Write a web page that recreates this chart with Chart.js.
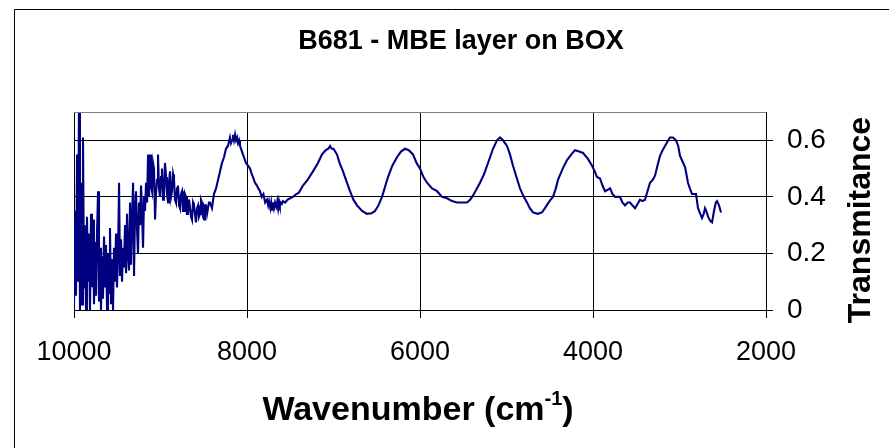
<!DOCTYPE html>
<html lang="en">
<head>
  <meta charset="UTF-8" />
  <title>B681 - MBE layer on BOX</title>
  <script src="https://cdn.jsdelivr.net/npm/chart.js"></script>
  <style>
    body {
      margin: 0;
      background: white;
    }
    canvas { display: block; }
  </style>
</head>
<body>
  <canvas id="spectrum" width="889" height="448"></canvas>

  <script>
    // Transmission spectrum, wavenumber in cm-1 (high to low)
    const wavenumber = [
      10000, 9988, 9977, 9965, 9954, 9942, 9931, 9919, 9907, 9896, 9884, 9873, 9861, 9850, 9838, 9826,
      9815, 9803, 9792, 9780, 9769, 9757, 9746, 9734, 9722, 9711, 9699, 9688, 9676, 9665, 9653, 9641,
      9630, 9618, 9607, 9595, 9584, 9572, 9560, 9549, 9537, 9526, 9514, 9503, 9491, 9479, 9468, 9456,
      9445, 9433, 9422, 9410, 9398, 9387, 9375, 9364, 9352, 9341, 9329, 9317, 9306, 9294, 9283, 9271,
      9260, 9248, 9236, 9225, 9213, 9202, 9190, 9179, 9167, 9155, 9144, 9132,
      9121, 9110, 9098, 9086, 9075, 9063, 9052, 9040, 9029, 9017, 9006, 8994, 8983, 8971, 8960, 8948,
      8936, 8925, 8913, 8902, 8890, 8878, 8867, 8855, 8844, 8832, 8821, 8809, 8798, 8786, 8775, 8763,
      8751, 8740, 8728, 8717, 8705, 8694, 8682, 8670, 8659, 8647, 8636, 8624, 8613, 8601, 8590, 8578,
      8566, 8555, 8543, 8532, 8520, 8509, 8497, 8486, 8474, 8462, 8451, 8440, 8428,
      8405, 8382, 8358, 8335, 8312, 8289, 8266, 8243, 8220, 8197, 8185, 8173, 8162, 8150, 8138, 8127,
      8115, 8104, 8092, 8081, 8058, 8035, 8012, 7988,
      7965, 7945, 7930, 7908, 7885, 7870, 7850, 7830, 7810, 7790, 7769, 7755, 7745, 7730, 7720, 7710,
      7700, 7688, 7676, 7662, 7650, 7640, 7630, 7620, 7610, 7597, 7584, 7560, 7530, 7500, 7468, 7430,
      7400, 7353, 7300, 7237, 7180, 7133, 7090, 7060, 7040, 7020, 7000, 6960,
      6930, 6890, 6850, 6809, 6770, 6728, 6670, 6613, 6560, 6520, 6480, 6439, 6400, 6370, 6320, 6266,
      6220, 6173, 6130, 6081, 6040, 6000, 5960, 5919, 5860, 5803, 5745, 5688, 5630, 5572, 5510, 5457,
      5420, 5387, 5350, 5306, 5260, 5225, 5190, 5156, 5110, 5075, 5040, 4994, 4960, 4925, 4885, 4844,
      4800, 4763, 4730, 4694, 4640, 4590, 4555, 4520, 4490, 4462, 4430, 4405, 4350, 4300, 4250, 4208,
      4160, 4115, 4060, 4011, 3980, 3954, 3919, 3890, 3861, 3830, 3803, 3775, 3746, 3715, 3688, 3660,
      3630, 3600, 3572, 3545, 3514, 3485, 3457, 3430, 3399, 3370, 3341, 3310, 3283, 3255, 3225, 3195,
      3168, 3140, 3110, 3075, 3040, 3015, 2994, 2965, 2936, 2920, 2902, 2880, 2855, 2830, 2809, 2786,
      2760, 2740, 2720, 2705, 2690, 2670, 2645, 2624, 2601, 2580, 2566, 2543, 2520
    ];

    const transmittance = [
      0.02, 0.35, 0.05, 0.55, 0.10, 0.75, 0.00, 0.45, 0.02, 0.61, 0.08, 0.30, 0.00, 0.33, 0.10, 0.27,
      0.00, 0.34, 0.08, 0.32, 0.02, 0.24, 0.05, 0.27, 0.42, 0.03, 0.22, 0.00, 0.19, 0.04, 0.26, 0.08,
      0.23, 0.00, 0.20, 0.06, 0.29, 0.02, 0.18, 0.00, 0.22, 0.10, 0.27, 0.08, 0.20, 0.45, 0.12, 0.25,
      0.10, 0.22, 0.15, 0.30, 0.13, 0.34, 0.20, 0.14, 0.38, 0.16, 0.32, 0.45, 0.12, 0.36, 0.42, 0.28,
      0.20, 0.38, 0.30, 0.44, 0.34, 0.22, 0.40, 0.35, 0.45, 0.38, 0.55, 0.40,
      0.55, 0.44, 0.42, 0.52, 0.50, 0.32, 0.41, 0.46, 0.55, 0.43, 0.40, 0.47, 0.50, 0.39, 0.41, 0.52,
      0.47, 0.41, 0.38, 0.45, 0.49, 0.40, 0.42, 0.48, 0.46, 0.39, 0.38, 0.43, 0.44, 0.37, 0.36, 0.41,
      0.42, 0.35, 0.35, 0.41, 0.40, 0.34, 0.34, 0.39, 0.39, 0.33, 0.32, 0.38, 0.37, 0.34, 0.31, 0.36,
      0.37, 0.33, 0.34, 0.39, 0.38, 0.33, 0.32, 0.37, 0.37, 0.34, 0.34, 0.38, 0.38,
      0.36, 0.41, 0.43, 0.46, 0.49, 0.52, 0.54, 0.57, 0.58, 0.61, 0.59, 0.60, 0.62, 0.60, 0.62, 0.60,
      0.61, 0.59, 0.60, 0.58, 0.56, 0.54, 0.52, 0.51,
      0.50, 0.48, 0.47, 0.45, 0.44, 0.43, 0.42, 0.40, 0.41, 0.38, 0.39, 0.37, 0.385, 0.36, 0.38, 0.355,
      0.38, 0.36, 0.38, 0.365, 0.385, 0.36, 0.385, 0.37, 0.38, 0.375, 0.385, 0.38, 0.39, 0.395, 0.40, 0.41,
      0.415, 0.44, 0.46, 0.49, 0.52, 0.55, 0.565, 0.57, 0.58, 0.57, 0.57, 0.55,
      0.52, 0.49, 0.455, 0.42, 0.39, 0.37, 0.35, 0.34, 0.342, 0.35, 0.37, 0.40, 0.44, 0.47, 0.51, 0.54,
      0.56, 0.57, 0.565, 0.55, 0.52, 0.50, 0.47, 0.45, 0.43, 0.42, 0.40, 0.395, 0.385, 0.38, 0.38, 0.38,
      0.39, 0.405, 0.425, 0.45, 0.48, 0.51, 0.54, 0.57, 0.60, 0.61, 0.60, 0.58, 0.55, 0.51, 0.47, 0.43,
      0.40, 0.38, 0.36, 0.345, 0.34, 0.345, 0.36, 0.377, 0.39, 0.40, 0.43, 0.46, 0.50, 0.53, 0.55, 0.565,
      0.56, 0.555, 0.535, 0.51, 0.49, 0.47, 0.465, 0.44, 0.42, 0.425, 0.43, 0.41, 0.40, 0.40, 0.40, 0.38,
      0.37, 0.38, 0.38, 0.37, 0.36, 0.375, 0.39, 0.385, 0.39, 0.42, 0.45, 0.46, 0.475, 0.51, 0.545, 0.565,
      0.58, 0.595, 0.61, 0.61, 0.60, 0.58, 0.545, 0.525, 0.505, 0.48, 0.45, 0.43, 0.41, 0.41, 0.41, 0.36,
      0.34, 0.325, 0.34, 0.36, 0.35, 0.33, 0.315, 0.31, 0.35, 0.38, 0.385, 0.37, 0.345
    ];

    const xTicks = [10000, 8000, 6000, 4000, 2000];
    const yTicks = [0, 0.2, 0.4, 0.6];

    const FONT = "'Liberation Sans', Arial, sans-serif";

    // titles and frame lines drawn straight onto the canvas
    const decorations = {
      id: 'decorations',
      afterDraw(chart) {
        const ctx = chart.ctx;
        const area = chart.chartArea;
        ctx.save();

        // outer chart border (only left/top are inside the canvas)
        ctx.strokeStyle = '#000';
        ctx.lineWidth = 1;
        ctx.beginPath();
        ctx.moveTo(14.5, 448);
        ctx.lineTo(14.5, 9.5);
        ctx.lineTo(889, 9.5);
        ctx.stroke();

        // plot area top edge
        ctx.strokeStyle = '#808080';
        ctx.beginPath();
        ctx.moveTo(area.left, Math.round(area.top) + 0.5);
        ctx.lineTo(area.right, Math.round(area.top) + 0.5);
        ctx.stroke();

        ctx.fillStyle = '#000';
        ctx.textAlign = 'center';
        ctx.textBaseline = 'middle';

        ctx.font = 'bold 27px ' + FONT;
        ctx.fillText('B681 - MBE layer on BOX', 461, 42);

        // x axis title with superscript
        const main = 'Wavenumber (cm';
        const sup = '-1';
        const close = ')';
        ctx.font = 'bold 34px ' + FONT;
        const wMain = ctx.measureText(main).width;
        const wClose = ctx.measureText(close).width;
        ctx.font = 'bold 20px ' + FONT;
        const wSup = ctx.measureText(sup).width;
        let x = 418 - (wMain + wSup + wClose) / 2;
        ctx.textAlign = 'left';
        ctx.font = 'bold 34px ' + FONT;
        ctx.fillText(main, x, 411);
        x += wMain;
        ctx.font = 'bold 20px ' + FONT;
        ctx.fillText(sup, x, 399);
        x += wSup;
        ctx.font = 'bold 34px ' + FONT;
        ctx.fillText(close, x, 411);

        // y axis title, reading bottom to top
        ctx.translate(861, 220);
        ctx.rotate(-Math.PI / 2);
        ctx.textAlign = 'center';
        ctx.font = 'bold 32px ' + FONT;
        ctx.fillText('Transmitance', 0, 0);

        ctx.restore();
      }
    };

    new Chart(document.getElementById('spectrum'), {
      type: 'line',
      data: {
        datasets: [{
          data: wavenumber.map((w, i) => ({ x: w, y: transmittance[i] })),
          borderColor: '#000080',
          borderWidth: 2.1,
          pointRadius: 0,
          tension: 0
        }]
      },
      options: {
        responsive: false,
        animation: false,
        devicePixelRatio: 1,
        layout: { padding: { left: 74, top: 112, right: 0, bottom: 0 } },
        plugins: {
          legend: { display: false },
          title: { display: false },
          tooltip: { enabled: false }
        },
        scales: {
          x: {
            type: 'linear',
            reverse: true,
            min: 2000,
            max: 10000,
            afterBuildTicks: axis => { axis.ticks = xTicks.map(v => ({ value: v })); },
            afterFit: axis => { axis.height = 138; },
            grid: { color: '#000', tickLength: 8 },
            border: { color: '#000' },
            ticks: {
              color: '#000',
              font: { family: FONT, size: 27 },
              padding: 18,
              maxRotation: 0,
              callback: v => String(v)
            }
          },
          y: {
            position: 'right',
            min: 0,
            max: 0.7,
            afterBuildTicks: axis => { axis.ticks = yTicks.map(v => ({ value: v })); },
            afterFit: axis => { axis.width = 123; },
            grid: { color: '#000', tickLength: 7 },
            border: { color: '#000' },
            ticks: {
              color: '#000',
              font: { family: FONT, size: 28 },
              padding: 14,
              callback: v => v === 0 ? '0' : v.toFixed(1)
            }
          }
        }
      },
      plugins: [decorations]
    });
  </script>
</body>
</html>
